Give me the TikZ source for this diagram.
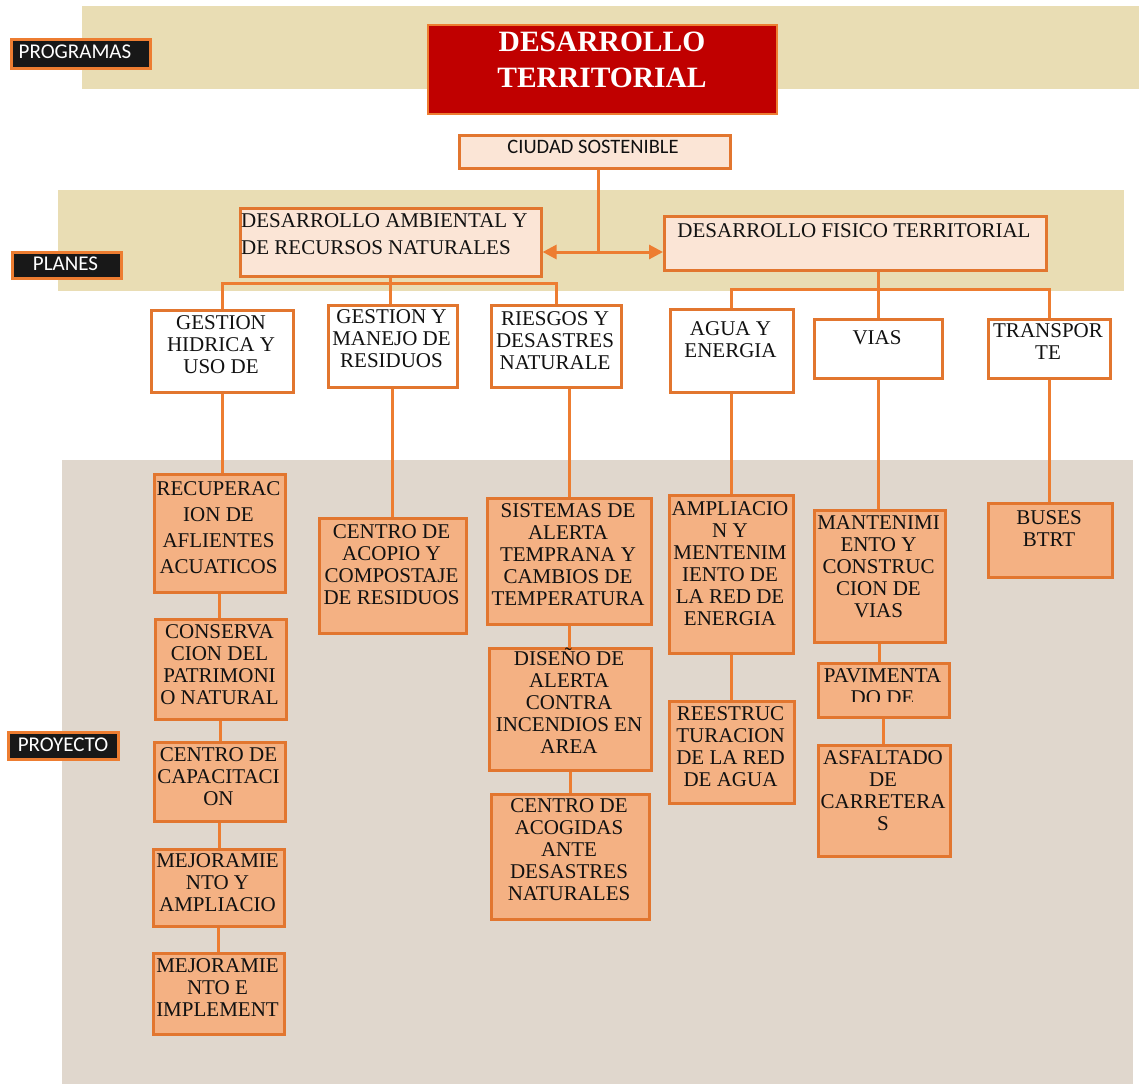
\documentclass[tikz,border=0pt]{standalone}
\usepackage{fontspec}
\setmainfont{Liberation Serif}
\newfontfamily\calibrifont{Carlito}
\usetikzlibrary{arrows.meta}
\definecolor{tanbg}{HTML}{E9DDB4}
\definecolor{greybg}{HTML}{E0D7CD}
\definecolor{oline}{HTML}{ED7D31}
\definecolor{oborder}{HTML}{E2762F}
\definecolor{ofill}{HTML}{F4B183}
\definecolor{pfill}{HTML}{FBE5D6}
\definecolor{tred}{HTML}{C00000}
\definecolor{lblk}{HTML}{181818}
\definecolor{ink}{HTML}{111111}
\tikzset{
  conn/.style={draw=oline, line width=3pt},
  basebox/.style={draw=oborder, line width=2.6pt, inner sep=0pt, anchor=north west},
  wbox/.style={basebox, fill=white},
  obox/.style={basebox, fill=ofill},
  pbox/.style={basebox, fill=pfill},
  lbox/.style={basebox, draw=oline, fill=lblk},
  redbox/.style={basebox, draw=oline, line width=2.2pt, fill=tred},
  tx/.style={inner sep=0pt, align=center, font=\fontsize{21}{22}\selectfont, text=ink, anchor=north},
  ltx/.style={inner sep=0pt, text=white, font=\calibrifont\fontsize{21}{24}\selectfont},
  tip/.tip={Triangle[length=14pt,width=14pt]},
}
\newcommand\bx[6]{\node[#1, minimum width={#5pt-#3pt}, minimum height={#6pt-#4pt}] (#2) at (#3,#4) {};}
\begin{document}
\begin{tikzpicture}[x=1pt,y=-1pt]
\useasboundingbox (0,0) rectangle (1139,1084);
% background bands
\fill[tanbg] (82,6) rectangle (1139,89);
\fill[tanbg] (58,190) rectangle (1124,291);
\fill[greybg] (62,460) rectangle (1133,1084);

% side labels
\bx{lbox}{prog}{10}{38}{149}{67}
\node[ltx] (prog-t) at (75,52) {PROGRAMAS};
\bx{lbox}{plan}{11}{251}{120}{277}
\node[ltx] (plan-t) at (65.5,264) {PLANES};
\bx{lbox}{proy}{7}{731}{117}{758}
\node[ltx] (proy-t) at (63,745) {PROYECTO};

% title
\bx{redbox}{title}{427}{24}{776}{113}
\node[inner sep=0pt, align=center, anchor=north, text=white, font=\fontsize{29.5}{36}\selectfont\bfseries] (title-t) at (602,32) {DESARROLLO\\TERRITORIAL};

% ciudad
\bx{pbox}{ciudad}{458}{134}{729}{167}
\node[inner sep=0pt, anchor=north, text=ink, font=\calibrifont\fontsize{20.5}{24}\selectfont] (ciudad-t) at (593,140) {CIUDAD SOSTENIBLE};

% plans
\bx{pbox}{amb}{239}{207}{540}{275}
\node[inner sep=0pt, align=left, anchor=north west, text=ink, font=\fontsize{21}{27}\selectfont] (amb-t) at (241,213) {DESARROLLO AMBIENTAL Y\\DE RECURSOS NATURALES};
\bx{pbox}{fis}{663}{215}{1045}{269}
\node[tx] (fis-t) at (854,223) {DESARROLLO FISICO TERRITORIAL};

% row 3
\bx{wbox}{gh}{150}{309}{292}{391}
\node[tx] (gh-t) at (221,315) {GESTION\\HIDRICA Y\\USO DE};
\bx{wbox}{gm}{327}{304}{456}{386}
\node[tx] (gm-t) at (391.5,309) {GESTION Y\\MANEJO DE\\RESIDUOS};
\bx{wbox}{ri}{490}{304}{620}{386}
\node[tx] (ri-t) at (555,311) {RIESGOS Y\\DESASTRES\\NATURALE};
\bx{wbox}{ag}{669}{308}{792}{391}
\node[tx] (ag-t) at (730.5,321) {AGUA Y\\ENERGIA};
\bx{wbox}{vias}{813}{318}{941}{377}
\node[tx] (vias-t) at (877,330) {VIAS};
\bx{wbox}{tr}{987}{318}{1109}{377}
\node[tx] (tr-t) at (1048,323) {TRANSPOR\\TE};

% projects
\bx{obox}{rec}{153}{473}{284}{591}
\node[tx, font=\fontsize{21}{26}\selectfont] (rec-t) at (218.5,481) {RECUPERAC\\ION DE\\AFLIENTES\\ACUATICOS};
\bx{obox}{con}{154}{618}{285}{718}
\node[tx] (con-t) at (219.5,624) {CONSERVA\\CION DEL\\PATRIMONI\\O NATURAL};
\bx{obox}{cap}{153}{741}{284}{820}
\node[tx] (cap-t) at (218.5,747) {CENTRO DE\\CAPACITACI\\ON};
\bx{obox}{mej1}{152}{848}{283}{925}
\node[tx] (mej1-t) at (217.5,853) {MEJORAMIE\\NTO Y\\AMPLIACIO};
\bx{obox}{mej2}{152}{952}{283}{1033}
\node[tx] (mej2-t) at (217.5,958) {MEJORAMIE\\NTO E\\IMPLEMENT};

\bx{obox}{aco}{318}{517}{465}{632}
\node[tx] (aco-t) at (391.5,524) {CENTRO DE\\ACOPIO Y\\COMPOSTAJE\\DE RESIDUOS};

\bx{obox}{sis}{486}{497}{650}{623}
\node[tx] (sis-t) at (568,503) {SISTEMAS DE\\ALERTA\\TEMPRANA Y\\CAMBIOS DE\\TEMPERATURA};
\bx{obox}{dis}{488}{647}{650}{769}
\node[tx] (dis-t) at (569,648) {DISEÑO DE\\ALERTA\\CONTRA\\INCENDIOS EN\\AREA};
\bx{obox}{acg}{490}{793}{648}{918}
\node[tx] (acg-t) at (569,798) {CENTRO DE\\ACOGIDAS\\ANTE\\DESASTRES\\NATURALES};

\bx{obox}{amp}{668}{494}{792}{652}
\node[tx] (amp-t) at (730,501) {AMPLIACIO\\N Y\\MENTENIM\\IENTO DE\\LA RED DE\\ENERGIA};
\bx{obox}{ree}{668}{700}{793}{802}
\node[tx] (ree-t) at (730.5,706) {REESTRUC\\TURACION\\DE LA RED\\DE AGUA};

\bx{obox}{man}{813}{509}{944}{641}
\node[tx] (man-t) at (878.5,515) {MANTENIMI\\ENTO Y\\CONSTRUC\\CION DE\\VIAS};
\bx{obox}{pav}{817}{662}{948}{716}
\begin{scope}
  \clip (817,662) rectangle (948,701);
  \node[tx] (pav-t) at (882.5,668) {PAVIMENTA\\DO DE};
\end{scope}
\bx{obox}{asf}{817}{744}{949}{855}
\node[tx] (asf-t) at (883,750) {ASFALTADO\\DE\\CARRETERA\\S};

\bx{obox}{bus}{987}{502}{1111}{576}
\node[tx] (bus-t) at (1049,510) {BUSES\\BTRT};

% connectors
\coordinate (j1) at (598,252);
\draw[conn] (ciudad.south -| j1) -- (j1);
\draw[conn, tip-tip] (amb.east |- j1) -- (fis.west |- j1);

\coordinate (b1) at (389,283);
\draw[conn] (amb.south) -- (amb.south |- b1);
\draw[conn] (gh.north) -- (gh.north |- b1) -- (ri.north |- b1) -- (ri.north);
\draw[conn] (amb.south |- b1) -- (amb.south |- gm.north);

\coordinate (b2) at (877,289);
\draw[conn] (vias.north |- fis.south) -- (vias.north);
\draw[conn] (ag.north) -- (ag.north |- b2) -- (tr.north |- b2) -- (tr.north);

\draw[conn] (gh.south) -- (gh.south |- rec.north);
\draw[conn] (rec.south) -- (rec.south |- con.north);
\draw[conn] (con.south) -- (con.south |- cap.north);
\draw[conn] (cap.south) -- (cap.south |- mej1.north);
\draw[conn] (mej1.south) -- (mej1.south |- mej2.north);

\draw[conn] (gm.south) -- (gm.south |- aco.north);

\draw[conn] (sis.north |- ri.south) -- (sis.north);
\draw[conn] (sis.south) -- (sis.south |- dis.north);
\draw[conn] (dis.south) -- (dis.south |- acg.north);

\draw[conn] (ag.south) -- (ag.south |- amp.north);
\draw[conn] (amp.south) -- (amp.south |- ree.north);

\draw[conn] (vias.south) -- (vias.south |- man.north);
\draw[conn] (man.south) -- (man.south |- pav.north);
\draw[conn] (pav.south) -- (pav.south |- asf.north);

\draw[conn] (tr.south) -- (tr.south |- bus.north);
\end{tikzpicture}
\end{document}
